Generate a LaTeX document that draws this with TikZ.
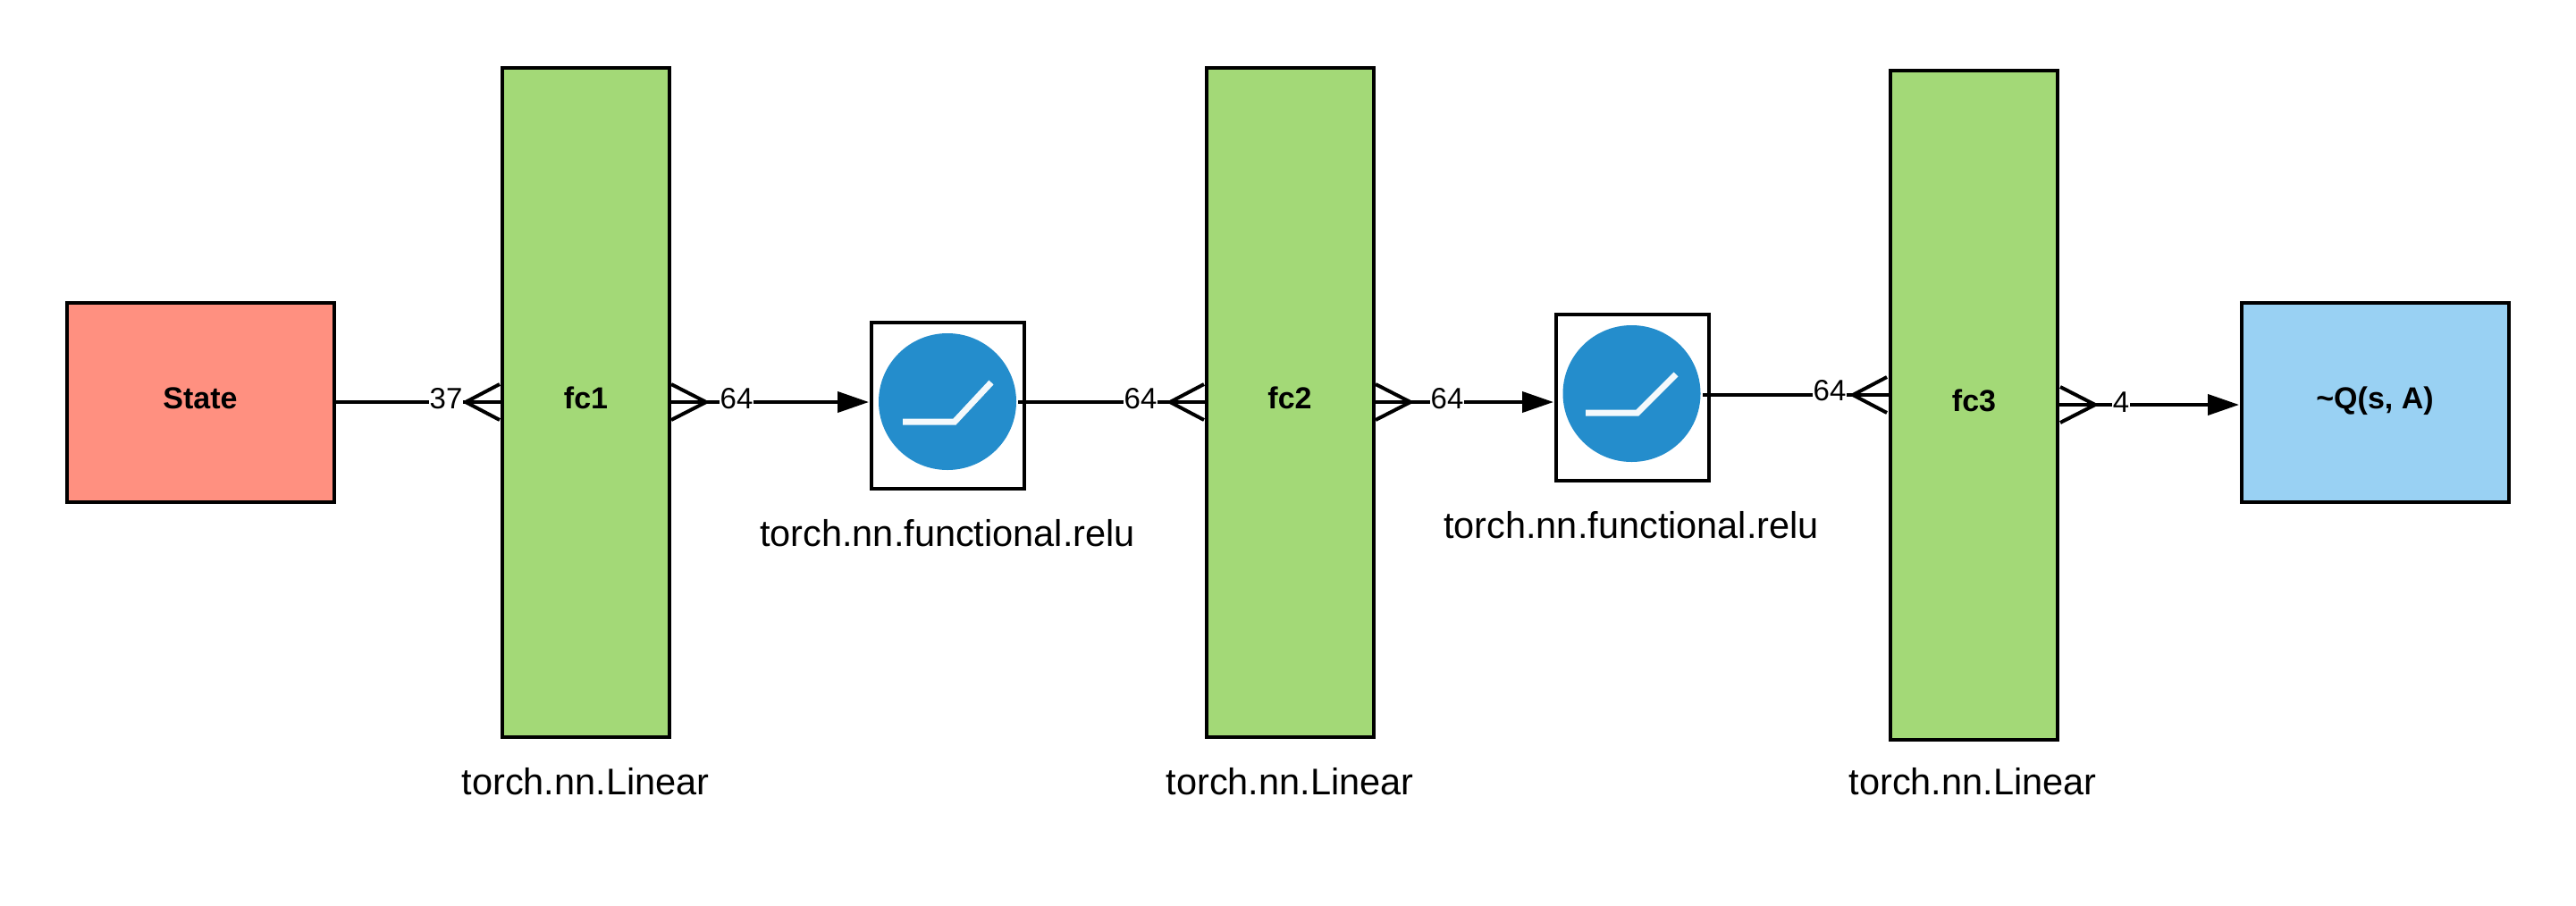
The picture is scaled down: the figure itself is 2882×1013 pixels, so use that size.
\documentclass[tikz,border=0pt]{standalone}
\usepackage{fontspec}
\setmainfont{Liberation Sans}
\usetikzlibrary{arrows.meta,shapes.geometric}
\definecolor{statered}{HTML}{FF9080}
\definecolor{fcgreen}{HTML}{A3D977}
\definecolor{qblue}{HTML}{99D1F3}
\definecolor{iconblue}{HTML}{248DCC}
\tikzset{
  wire/.style={line width=4pt,draw=black},
  boxbase/.style={draw=black,line width=4pt,inner sep=0pt,outer sep=0pt,align=center,
    font=\fontsize{34}{40}\selectfont\bfseries,text height=26pt,text depth=12pt},
  iobox/.style={boxbase,minimum width=299pt,minimum height=223pt},
  fcbox/.style={boxbase,fill=fcgreen,minimum width=187pt,minimum height=749pt},
  relubox/.style={boxbase,fill=white,minimum width=171pt,minimum height=186pt},
  iconoval/.style={ellipse,fill=iconblue,inner sep=0pt,outer sep=0pt,minimum width=154pt,minimum height=153pt},
  ramp/.style={draw=white!95!iconblue,line width=7pt,line join=miter},
  lbl/.style={fill=white,inner sep=1pt,font=\fontsize{33}{38}\selectfont},
  captext/.style={inner sep=0pt,font=\fontsize{41.5}{50}\selectfont},
  headed/.style={-{Triangle[length=35pt,width=23pt]}},
  crowleft/.pic={\draw[wire] (38,-20) -- (0,0) -- (38,20);},
  crowright/.pic={\draw[wire] (2,-20) -- (41,0) -- (2,20);}
}
\begin{document}
\begin{tikzpicture}[x=1pt,y=-1pt]
\useasboundingbox (0,0) rectangle (2882,1013);
% boxes
\node[iobox,fill=statered] (state) at (224,450) {State};
\node[iobox,fill=qblue] (q) at (2657,450) {\textasciitilde Q(s, A)};
\node[fcbox] (fc1) at (655.5,450) {fc1};
\node[fcbox] (fc2) at (1443,450) {fc2};
\node[fcbox] (fc3) at (2208.5,453) {fc3};
\node[relubox] (r1) at (1060.5,453.5) {};
\node[relubox] (r2) at (1826.5,444.5) {};
\node[iconoval] (e1) at (1060,449.5) {};
\node[iconoval] (e2) at (1825.5,440.5) {};
\draw[ramp] (1010,472) -- (1068,472) -- (1109,428);
\draw[ramp] (1774,462) -- (1832,462) -- (1875,419);
% ports
\coordinate (r1in) at (972,450);
\coordinate (r1out) at (1139,450);
\coordinate (r2in) at (1738,450);
\coordinate (r2out) at (1905,442);
\coordinate (f3in) at (2113,442);
\coordinate (f3out) at (2304,453);
\coordinate (qin) at (2505,453);
% connectors
\draw[wire] (state.east) -- (fc1.west);
\draw[wire,headed] ([xshift=2pt]fc1.east) -- (r1in);
\draw[wire] (r1out) -- (fc2.west);
\draw[wire,headed] ([xshift=2pt]fc2.east) -- (r2in);
\draw[wire] (r2out) -- (f3in);
\draw[wire,headed] (f3out) -- (qin);
% crow's feet
\pic at (521,450) {crowleft};
\pic at (749,450) {crowright};
\pic at (1309,450) {crowleft};
\pic at (1537,450) {crowright};
\pic at (2073,442) {crowleft};
\pic at (2303,453) {crowright};
% labels
\node[lbl] (n37) at (499,446) {37};
\node[lbl] (n64a) at (824,446) {64};
\node[lbl] (n64b) at (1276,446) {64};
\node[lbl] (n64c) at (1619,446) {64};
\node[lbl] (n64d) at (2047,437) {64};
\node[lbl] (n4) at (2373,450) {4};
% captions
\node[captext] (c1) at (655,875) {torch.nn.Linear};
\node[captext] (c2) at (1443,875) {torch.nn.Linear};
\node[captext] (c3) at (2207,875) {torch.nn.Linear};
\node[captext] (c4) at (1060,597) {torch.nn.functional.relu};
\node[captext] (c5) at (1825,588) {torch.nn.functional.relu};
\end{tikzpicture}
\end{document}
